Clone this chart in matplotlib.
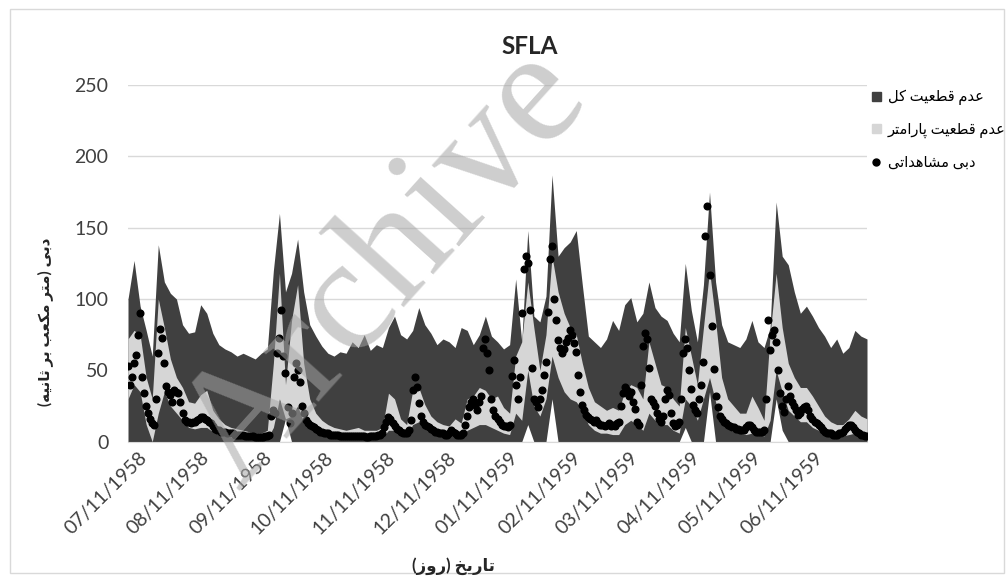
import pandas as pd
import matplotlib.pyplot as plt
import matplotlib.dates as mdates
from matplotlib.patches import Patch, Rectangle
from matplotlib.lines import Line2D

plt.rcParams['font.family'] = ['Lato', 'DejaVu Sans']

# band edges, one every 3 days from 1958-07-06
start = '1958-07-06'

tot_hi = [100, 127, 95, 78, 60, 138, 112, 104, 100, 82, 76, 77, 96, 90, 76, 68, 65, 63, 60, 62,
          60, 58, 62, 65, 120, 160, 105, 118, 142, 105, 82, 74, 67, 62, 60, 63, 62, 70, 66, 75,
          64, 68, 66, 80, 88, 75, 72, 78, 94, 82, 76, 68, 72, 70, 66, 80, 78, 68, 75, 88,
          74, 70, 65, 68, 114, 70, 148, 88, 84, 102, 187, 130, 136, 140, 148, 110, 74, 70, 66, 72,
          85, 78, 96, 101, 84, 90, 112, 94, 88, 85, 76, 70, 125, 92, 70, 110, 175, 112, 82, 70,
          68, 66, 72, 85, 70, 66, 80, 168, 130, 124, 105, 90, 95, 88, 80, 74, 66, 72, 62, 66,
          78, 74, 72]
tot_lo = [0] * 26 + [16] + [0] * 39 + [12, 0, 0, 0, 30] + [0] * 21 + [10, 0, 0, 0, 35] + [0] * 10 + [30, 8] + [0] * 14
par_hi = [72, 78, 75, 45, 30, 100, 80, 58, 45, 38, 28, 27, 33, 36, 22, 16, 12, 10, 9, 8,
          7, 6, 6, 8, 55, 118, 40, 85, 110, 55, 30, 20, 15, 12, 10, 9, 8, 9, 10, 8,
          8, 8, 10, 34, 30, 16, 12, 36, 38, 26, 18, 14, 12, 11, 16, 13, 30, 32, 38, 36,
          30, 32, 24, 20, 60, 70, 112, 80, 50, 75, 130, 105, 90, 80, 75, 55, 38, 28, 25, 22,
          24, 22, 35, 40, 38, 30, 70, 55, 40, 38, 30, 25, 80, 60, 40, 80, 120, 85, 45, 30,
          25, 20, 20, 32, 24, 15, 75, 118, 80, 55, 45, 38, 38, 32, 25, 18, 14, 12, 12, 16,
          22, 18, 16]
par_lo = [30, 40, 35, 12, 0, 20, 35, 25, 20, 15, 10, 9, 10, 10, 7, 5, 4, 3, 3, 2,
          2, 2, 2, 2, 10, 30, 16, 18, 25, 14, 9, 7, 5, 4, 3, 3, 3, 3, 3, 3,
          3, 3, 3, 8, 8, 5, 4, 12, 14, 9, 6, 5, 4, 4, 4, 4, 8, 10, 12, 12,
          10, 8, 6, 5, 20, 15, 50, 25, 18, 30, 60, 45, 35, 30, 28, 22, 12, 8, 6, 6,
          5, 5, 12, 15, 12, 8, 20, 15, 12, 12, 8, 6, 30, 25, 15, 30, 45, 28, 14, 9,
          7, 6, 5, 6, 5, 4, 15, 50, 35, 22, 18, 14, 14, 10, 8, 5, 4, 4, 4, 5,
          6, 5, 4]

# observed discharge, daily
obs = [53, 40, 45, 55, 61, 75, 90, 45, 34, 25, 20, 16, 13, 12, 30, 62, 79, 73, 55, 39,
       35, 33, 28, 36, 35, 34, 28, 20, 15, 14,
       14, 13, 14, 14, 15, 16, 17, 17, 16, 15, 14, 13, 11, 9, 8, 8, 7, 7, 7, 6,
       6, 6, 6, 5, 5, 5, 5, 5, 4, 4,
       4, 4, 4, 3, 3, 3, 3, 3, 4, 4, 5, 18, 22, 20, 62, 73, 92, 60, 48, 24,
       13, 20, 45, 55, 50, 42, 25, 20, 15, 13,
       12, 11, 10, 9, 8, 7, 7, 6, 6, 6, 5, 5, 5, 5, 5, 4, 4, 4, 4, 4,
       4, 4, 4, 4, 4, 4, 4, 4, 3, 3,
       4, 4, 4, 4, 5, 5, 6, 10, 14, 17, 16, 13, 11, 9, 8, 7, 6, 6, 6, 8,
       15, 36, 45, 38, 27, 18, 14, 12, 11, 10,
       9, 8, 7, 7, 6, 6, 6, 5, 5, 6, 8, 7, 6, 5, 5, 5, 6, 12, 18, 24,
       28, 30, 26, 22, 28, 32, 66, 72, 62, 50,
       30, 22, 18, 16, 14, 12, 11, 11, 10, 12, 46, 57, 40, 30, 45, 90, 121, 130, 125, 92,
       52, 30, 28, 24, 30, 36, 47, 56, 91, 128,
       137, 100, 85, 71, 66, 62, 65, 70, 73, 78, 75, 69, 63, 47, 35, 26, 22, 19, 17, 16,
       15, 14, 15, 13, 12, 12, 11, 12, 13, 11,
       12, 11, 13, 14, 25, 34, 38, 36, 32, 35, 28, 23, 14, 12, 40, 67, 76, 72, 52, 30,
       28, 25, 20, 16, 14, 18, 30, 36, 33, 20,
       13, 11, 12, 14, 30, 62, 72, 66, 50, 37, 26, 22, 20, 30, 40, 56, 144, 165, 117, 81,
       51, 32, 24, 18, 16, 14, 13, 12, 11, 10,
       10, 9, 9, 8, 8, 8, 10, 12, 12, 10, 8, 7, 7, 7, 7, 8, 30, 85, 64, 75,
       78, 70, 50, 34, 25, 21, 30, 39, 32, 28,
       25, 22, 19, 20, 23, 24, 25, 22, 18, 16, 14, 13, 12, 10, 8, 7, 6, 6, 6, 5,
       5, 5, 6, 6, 7, 9, 10, 12, 12, 10, 8, 7, 6, 5, 5, 4, 4]


def shape(text):
    # matplotlib does no arabic shaping, so pick the joined forms by hand
    # and write the result in visual (left to right) order
    forms = {
        '\u0627': (0xFE8D, 0xFE8E),
        '\u0628': (0xFE8F, 0xFE90, 0xFE91, 0xFE92),
        '\u062A': (0xFE95, 0xFE96, 0xFE97, 0xFE98),
        '\u062B': (0xFE99, 0xFE9A, 0xFE9B, 0xFE9C),
        '\u062E': (0xFEA5, 0xFEA6, 0xFEA7, 0xFEA8),
        '\u062F': (0xFEA9, 0xFEAA),
        '\u0631': (0xFEAD, 0xFEAE),
        '\u0632': (0xFEAF, 0xFEB0),
        '\u0634': (0xFEB5, 0xFEB6, 0xFEB7, 0xFEB8),
        '\u0637': (0xFEC1, 0xFEC2, 0xFEC3, 0xFEC4),
        '\u0639': (0xFEC9, 0xFECA, 0xFECB, 0xFECC),
        '\u0642': (0xFED5, 0xFED6, 0xFED7, 0xFED8),
        '\u0644': (0xFEDD, 0xFEDE, 0xFEDF, 0xFEE0),
        '\u0645': (0xFEE1, 0xFEE2, 0xFEE3, 0xFEE4),
        '\u0646': (0xFEE5, 0xFEE6, 0xFEE7, 0xFEE8),
        '\u0647': (0xFEE9, 0xFEEA, 0xFEEB, 0xFEEC),
        '\u0648': (0xFEED, 0xFEEE),
        '\u067E': (0xFB56, 0xFB57, 0xFB58, 0xFB59),
        '\u06A9': (0xFB8E, 0xFB8F, 0xFB90, 0xFB91),
        '\u06CC': (0xFBFC, 0xFBFD, 0xFBFE, 0xFBFF),
    }
    text = text.replace('\u064A', '\u06CC').replace('\u0643', '\u06A9')
    out = []
    for k, ch in enumerate(text):
        if ch not in forms:
            out.append(ch)
            continue
        f = forms[ch]
        prev = text[k - 1] if k > 0 else ''
        nxt = text[k + 1] if k + 1 < len(text) else ''
        jp = prev in forms and len(forms[prev]) == 4
        jn = len(f) == 4 and nxt in forms
        if jp and jn:
            c = f[3]
        elif jp:
            c = f[1]
        elif jn:
            c = f[2]
        else:
            c = f[0]
        out.append(chr(c))
    return ''.join(out)[::-1].translate(str.maketrans('()', ')('))


dates = pd.date_range(start, periods=len(tot_hi), freq='3D')
obs_dates = pd.date_range(start, periods=len(obs), freq='D')

fig = plt.figure(figsize=(10.08, 5.79), dpi=100)
ax = fig.add_axes([128 / 1008, 1 - 441.7 / 579, (867 - 128) / 1008, (441.7 - 85) / 579])

ax.fill_between(dates, tot_lo, tot_hi, color='#404040', lw=0, zorder=2)
ax.fill_between(dates, par_lo, par_hi, color='#d6d6d6', lw=0, zorder=3)
ax.plot(obs_dates, obs, 'o', color='black', ms=4.8, zorder=4)

ax.set_ylim(0, 250)
ax.set_xlim(dates[0], dates[-1])
ax.set_yticks([0, 50, 100, 150, 200, 250])
ax.grid(axis='y', color='#d9d9d9', lw=1)
ax.set_axisbelow(True)
for s in ['top', 'right', 'left']:
    ax.spines[s].set_visible(False)
ax.spines['bottom'].set_color('#d9d9d9')

ax.xaxis.set_major_locator(mdates.MonthLocator(bymonthday=11))
ax.xaxis.set_major_formatter(mdates.DateFormatter('%m/%d/%Y'))
ax.tick_params(axis='both', length=0, labelsize=14, labelcolor='#404040')
ax.tick_params(axis='y', pad=14)
ax.tick_params(axis='x', pad=5)
for lab in ax.get_xticklabels():
    lab.set_rotation(45)
    lab.set_ha('right')
    lab.set_va('top')
    lab.set_rotation_mode('anchor')

fig.text(530 / 1008, 1 - 46 / 579, 'SFLA', fontsize=17.5, fontweight='bold', color='#262626',
         ha='center', va='center')
fig.text(45 / 1008, 1 - 322 / 579, shape('دبی (متر مکعب بر ثانیه)'), rotation=90, fontsize=11,
         fontweight='bold', ha='center', va='center', color='#262626')
fig.text(454 / 1008, 1 - 566 / 579, shape('تاریخ (روز)'), fontsize=12, fontweight='bold',
         ha='center', va='center', color='#262626')

handles = [Patch(color='#404040'), Patch(color='#d6d6d6'),
           Line2D([], [], marker='o', color='black', ls='', ms=5)]
labels = [shape('عدم قطعیت کل'), shape('عدم قطعیت پارامتر'), shape('دبی مشاهداتی')]
ax.legend(handles, labels, loc='upper left', bbox_to_anchor=(872 / 1008, 1 - 90 / 579),
          bbox_transform=fig.transFigure, frameon=False, fontsize=10.5, labelspacing=1.2,
          handlelength=0.6, handleheight=0.6, handletextpad=0.5, borderpad=0, borderaxespad=0)

# watermark that sits over the chart
fig.text(385 / 1008, 1 - 268 / 579, 'Archive', rotation=48, fontsize=118, family='Liberation Serif',
         color='#a5a5a5', alpha=0.55, ha='center', va='center', zorder=10)

fig.patches.append(Rectangle((10 / 1008, 6 / 579), 994 / 1008, 564 / 579, transform=fig.transFigure,
                             fill=False, edgecolor='#d9d9d9', lw=1))

fig.savefig('out.png', dpi=100)
